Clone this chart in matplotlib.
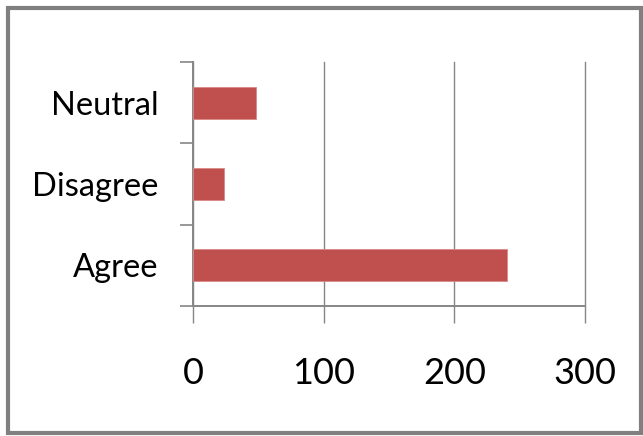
import matplotlib
matplotlib.use('Agg')
import matplotlib.pyplot as plt
from matplotlib.patches import Rectangle
from matplotlib.ticker import FixedLocator

categories = ['Agree', 'Disagree', 'Neutral']
counts = [240, 24, 48]
x_ticks = [0, 100, 200, 300]

bar_color = '#C0504D'
line_color = '#868686'

plt.rcParams['font.family'] = ['Lato', 'DejaVu Sans']

fig = plt.figure(figsize=(6.43, 4.36), dpi=100)
ax = fig.add_axes([193/643, 1-306/436, (585-193)/643, (306-62)/436])

pos = list(range(len(categories)))
ax.barh(pos, counts, height=0.39, color=bar_color, edgecolor='#D98A88', linewidth=0.6, zorder=3)

ax.set_xlim(0, 300)
ax.set_ylim(-0.5, len(categories)-0.5)

# boundary ticks on y, labels centred between them
ax.yaxis.set_major_locator(FixedLocator([p-0.5 for p in pos] + [pos[-1]+0.5]))
ax.yaxis.set_minor_locator(FixedLocator(pos))
ax.set_yticklabels([], minor=False)
ax.set_yticklabels(categories, minor=True, fontsize=23.5)
ax.tick_params(axis='y', which='major', length=9.5, width=1.2, color=line_color, direction='out')
ax.tick_params(axis='y', which='minor', length=0, pad=25)

ax.set_xticks(x_ticks)
ax.set_xticklabels([str(t) for t in x_ticks], fontsize=26)
ax.tick_params(axis='x', length=12, width=1.0, color=line_color, direction='out', pad=25)

ax.grid(axis='x', color=line_color, linewidth=1.0, zorder=0)
for gl in ax.get_xgridlines():
    gl.set_clip_on(False)
for s in ['top', 'right']:
    ax.spines[s].set_visible(False)
for s in ['left', 'bottom']:
    ax.spines[s].set_color(line_color)
    ax.spines[s].set_linewidth(1.4)

# outer chart border
fig.patches.append(Rectangle((8/643, 1-433/436), 633/643, 425/436, transform=fig.transFigure,
                             fill=False, edgecolor='#808080', linewidth=3))

fig.savefig('out.png', dpi=100)
